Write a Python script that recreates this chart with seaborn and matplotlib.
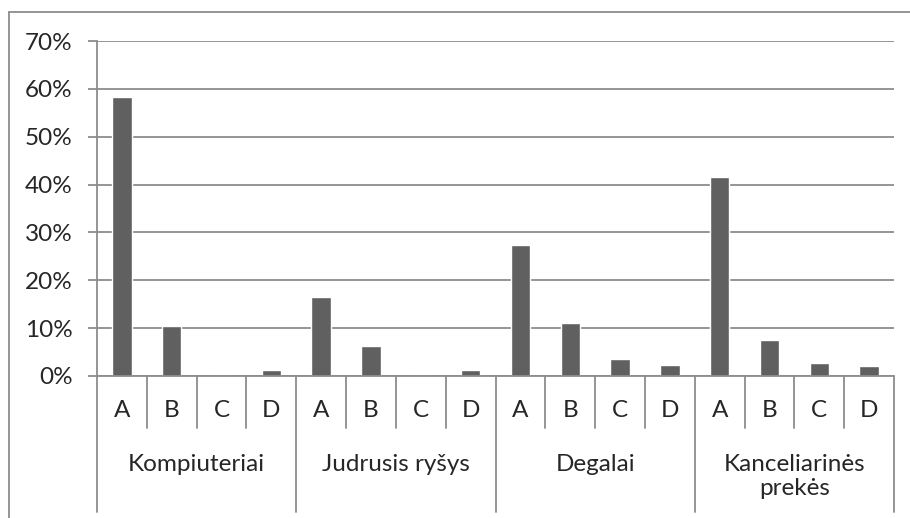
import matplotlib
matplotlib.use("Agg")
import matplotlib.pyplot as plt
from matplotlib.lines import Line2D
from matplotlib.ticker import PercentFormatter
import seaborn as sns
import pandas as pd

groups = ['Kompiuteriai', 'Judrusis ryšys', 'Degalai', 'Kanceliarinės\nprekės']
letters = ['A', 'B', 'C', 'D']
kompiuteriai = [0.583, 0.104, 0.0, 0.0125]
judrusis = [0.166, 0.063, 0.0, 0.0125]
degalai = [0.274, 0.110, 0.036, 0.022]
kanceliarines = [0.416, 0.075, 0.027, 0.0215]

values = kompiuteriai + judrusis + degalai + kanceliarines
df = pd.DataFrame({
    'pos': list(range(len(values))),
    'value': values,
    'letter': letters * len(groups),
})

sns.set_style('white')
plt.rcParams['font.family'] = ['Lato', 'DejaVu Sans']

grid_color = '#8c8c8c'
bar_color = '#606060'
fs = 17.5

fig = plt.figure(figsize=(9.1, 5.18), dpi=100)
ax = fig.add_axes([97 / 910, 1 - 376 / 518, 797 / 910, 335 / 518])

sns.barplot(data=df, x='pos', y='value', color=bar_color, saturation=1,
            width=0.39, ax=ax, zorder=3)

ax.set_ylim(0, 0.7)
ax.set_xlim(-0.5, len(values) - 0.5)
ax.set_yticks([0, 0.1, 0.2, 0.3, 0.4, 0.5, 0.6, 0.7])
ax.yaxis.set_major_formatter(PercentFormatter(1.0, decimals=0))
ax.grid(axis='y', color=grid_color, linewidth=1.3, zorder=0)
ax.set_axisbelow(True)
for side in ['top', 'right', 'bottom']:
    ax.spines[side].set_visible(False)
ax.spines['left'].set_color(grid_color)
ax.spines['left'].set_linewidth(1.3)
ax.tick_params(axis='y', length=6.5, width=1.3, color=grid_color,
               labelsize=fs, pad=11, left=True)
ax.set_xticks(df['pos'])
ax.set_xticklabels(df['letter'])
ax.tick_params(axis='x', length=0, labelsize=fs, pad=17)
ax.set_xlabel('')
ax.set_ylabel('')

trans = ax.get_xaxis_transform()
ax.plot([-0.5, len(values) - 0.5], [0, 0], color=grid_color, lw=1.3,
        transform=trans, clip_on=False, zorder=4)
for k in range(len(values) + 1):
    low = -0.406 if k % 4 == 0 else -0.155
    ax.plot([k - 0.5, k - 0.5], [0, low], color=grid_color, lw=1.3,
            transform=trans, clip_on=False)

for i, g in enumerate(groups):
    center = i * 4 + 1.5
    ax.text(center, -0.232, g, transform=trans, ha='center', va='top',
            fontsize=fs, linespacing=1.2)

fig.add_artist(Line2D([9 / 910, 1], [1 - 12 / 518, 1 - 12 / 518],
                      color=grid_color, lw=1.3))
fig.add_artist(Line2D([9 / 910, 9 / 910], [0, 1 - 12 / 518],
                      color=grid_color, lw=1.3))

fig.savefig('out.png', dpi=100, facecolor='white')
